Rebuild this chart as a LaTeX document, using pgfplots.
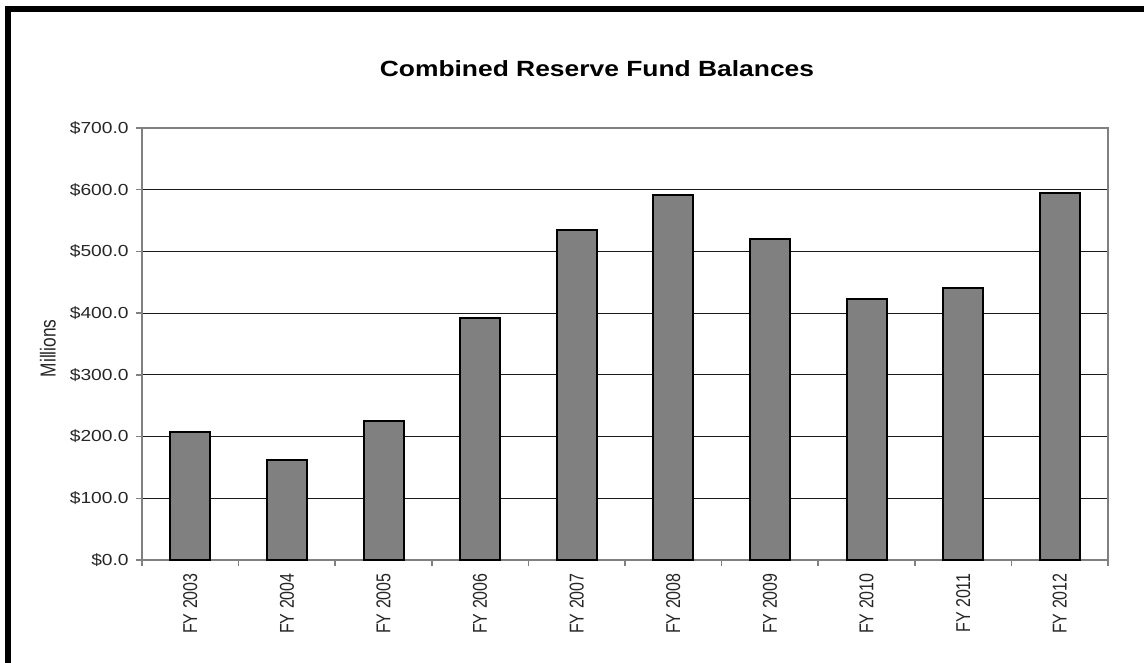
\documentclass[border=0pt]{standalone}
\usepackage{fontspec}
\setmainfont{Liberation Sans}
\newfontfamily\widefont[FakeStretch=1.2]{Liberation Sans}
\usepackage{pgfplots}
\pgfplotsset{compat=1.18}

\definecolor{bargray}{HTML}{808080}
\definecolor{axisgray}{HTML}{808080}

% rotated texts: the reference is stretched sideways, so thicken them across
\newcommand{\vs}[1]{\scalebox{1}[1.25]{#1}}

% one pixel of the reference = 0.75pt, page 1144 x 662 px
\begin{document}
\begin{tikzpicture}
\clip (0,0) rectangle (858pt,496.5pt);
% thick frame, only its left and top sides fall inside the picture
\draw[line width=4.5pt] (6pt,-20pt) -- (6pt,489.75pt) -- (900pt,489.75pt);
\begin{axis}[
  at={(106.5pt,76.5pt)}, anchor=south west,
  scale only axis,
  width=724.5pt, height=324pt,
  xmin=-0.5, xmax=9.5,
  ymin=0, ymax=700,
  ytick={0,100,...,700},
  yticklabels={\$0.0,\$100.0,\$200.0,\$300.0,\$400.0,\$500.0,\$600.0,\$700.0},
  xtick={0,...,9},
  xticklabels={\vs{FY 2003},\vs{FY 2004},\vs{FY 2005},\vs{FY 2006},\vs{FY 2007},
    \vs{FY 2008},\vs{FY 2009},\vs{FY 2010},\vs{FY 2011},\vs{FY 2012}},
  minor xtick={-0.5,0.5,...,9.5},
  major x tick style={draw=none},
  tick align=outside,
  xtick pos=bottom, ytick pos=left,
  major tick length=4.5pt,
  minor tick length=4.5pt,
  tick style={draw=axisgray, line width=1.1pt},
  axis line style={draw=axisgray, line width=1.1pt},
  ymajorgrids,
  major grid style={draw=black!90, line width=0.8pt},
  yticklabel style={font=\widefont\fontsize{12}{12}\selectfont, text=black!85, xshift=-2pt},
  xticklabel style={font=\fontsize{12}{12}\selectfont, text=black!85, rotate=90, anchor=east, xshift=-2pt},
  title={Combined Reserve Fund Balances},
  title style={font=\widefont\bfseries\fontsize{16.5}{18}\selectfont,
    at={(axis description cs:0.471,1.12)}, anchor=center},
  ylabel={\vs{Millions}},
  ylabel style={font=\fontsize{13}{13}\selectfont, text=black!85,
    at={(axis description cs:-0.0973,0.49)}, anchor=center, rotate=0},
]
\addplot[ybar, bar width=0.414, fill=bargray, draw=black, line width=1.5pt]
  coordinates {
  (0,208) (1,162) (2,225) (3,392) (4,535)
  (5,591) (6,520) (7,423) (8,440) (9,595)
  };
\end{axis}
\end{tikzpicture}
\end{document}
